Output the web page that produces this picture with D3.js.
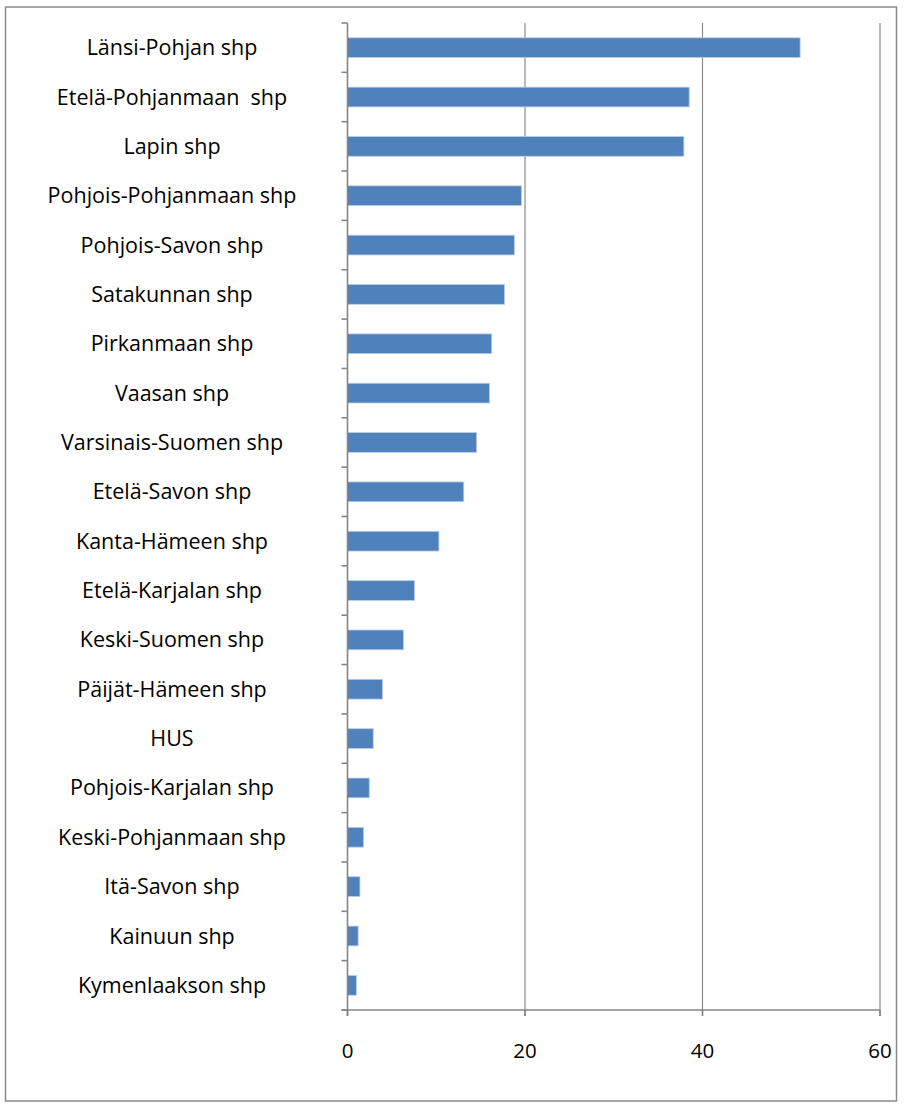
<!DOCTYPE html>
<html>
<head>
<meta charset="utf-8">
<script src="https://cdn.jsdelivr.net/npm/d3@7"></script>
<style>
  body { margin: 0; background: #fff; }
  text { font-family: "Open Sans", Lato, sans-serif; fill: #000; white-space: pre; }
</style>
</head>
<body>
<div id="chart-container"></div>
<script>
// Categories (top to bottom) and values
const categories = [
  "Länsi-Pohjan shp", "Etelä-Pohjanmaan  shp", "Lapin shp", "Pohjois-Pohjanmaan shp",
  "Pohjois-Savon shp", "Satakunnan shp", "Pirkanmaan shp", "Vaasan shp",
  "Varsinais-Suomen shp", "Etelä-Savon shp", "Kanta-Hämeen shp", "Etelä-Karjalan shp",
  "Keski-Suomen shp", "Päijät-Hämeen shp", "HUS", "Pohjois-Karjalan shp",
  "Keski-Pohjanmaan shp", "Itä-Savon shp", "Kainuun shp", "Kymenlaakson shp"
];
const values = [51.0, 38.5, 37.9, 19.6, 18.8, 17.7, 16.25, 16.0, 14.55, 13.1,
  10.3, 7.55, 6.3, 3.95, 2.9, 2.45, 1.8, 1.4, 1.2, 1.0];
const xTicks = [0, 20, 40, 60];

const W = 910, H = 1104;
const margin = { top: 23, right: 30, bottom: 94, left: 347.5 };
const width = 880 - margin.left;
const height = 1010 - margin.top;

const svg = d3.select("#chart-container").append("svg")
  .attr("width", W).attr("height", H);

// outer chart border
svg.append("rect")
  .attr("x", 5.5).attr("y", 7).attr("width", 891).attr("height", 1094)
  .attr("fill", "none").attr("stroke", "#8a8a8a").attr("stroke-width", 1.5);

const g = svg.append("g").attr("transform", `translate(${margin.left},${margin.top})`);

const x = d3.scaleLinear().domain([0, 60]).range([0, width]);
const y = d3.scaleBand().domain(categories).range([0, height]).paddingInner(0.6).paddingOuter(0.3);
const yb = d3.scaleBand().domain(categories).range([0, height]);

// gridlines
g.selectAll(".grid").data(xTicks.slice(1)).enter().append("line")
  .attr("x1", d => x(d)).attr("x2", d => x(d))
  .attr("y1", 0).attr("y2", height + 6)
  .attr("stroke", "#8c8c8c").attr("stroke-width", 1.2);

// bars
g.selectAll(".bar").data(values).enter().append("rect")
  .attr("x", 0)
  .attr("y", (d, i) => y(categories[i]))
  .attr("width", d => x(d))
  .attr("height", y.bandwidth())
  .attr("fill", "#4f81bd")
  .attr("stroke", "#b9cde5").attr("stroke-width", 0.8);

// y axis line and ticks
g.append("line").attr("x1", 0).attr("x2", 0).attr("y1", 0).attr("y2", height + 6)
  .attr("stroke", "#868686").attr("stroke-width", 1.6);
const yTickPos = categories.map(c => yb(c)).concat([height]);
g.selectAll(".ytick").data(yTickPos).enter().append("line")
  .attr("x1", -6).attr("x2", 0).attr("y1", d => d).attr("y2", d => d)
  .attr("stroke", "#868686").attr("stroke-width", 1.6);

// x axis line and ticks
g.append("line").attr("x1", -6).attr("x2", width).attr("y1", height).attr("y2", height)
  .attr("stroke", "#868686").attr("stroke-width", 1.6);
g.selectAll(".xtick").data(xTicks).enter().append("line")
  .attr("x1", d => x(d)).attr("x2", d => x(d)).attr("y1", height).attr("y2", height + 6)
  .attr("stroke", "#868686").attr("stroke-width", 1.6);

// x tick labels
g.selectAll(".xlabel").data(xTicks).enter().append("text")
  .attr("x", d => x(d)).attr("y", height + 48)
  .attr("text-anchor", "middle").attr("font-size", 20.5)
  .text(d => d);

// category labels
g.selectAll(".ylabel").data(categories).enter().append("text")
  .attr("x", 172 - margin.left)
  .attr("y", c => yb(c) + yb.bandwidth() / 2)
  .attr("dy", "0.35em")
  .attr("text-anchor", "middle").attr("font-size", 21.5)
  .text(c => c);
</script>
</body>
</html>
